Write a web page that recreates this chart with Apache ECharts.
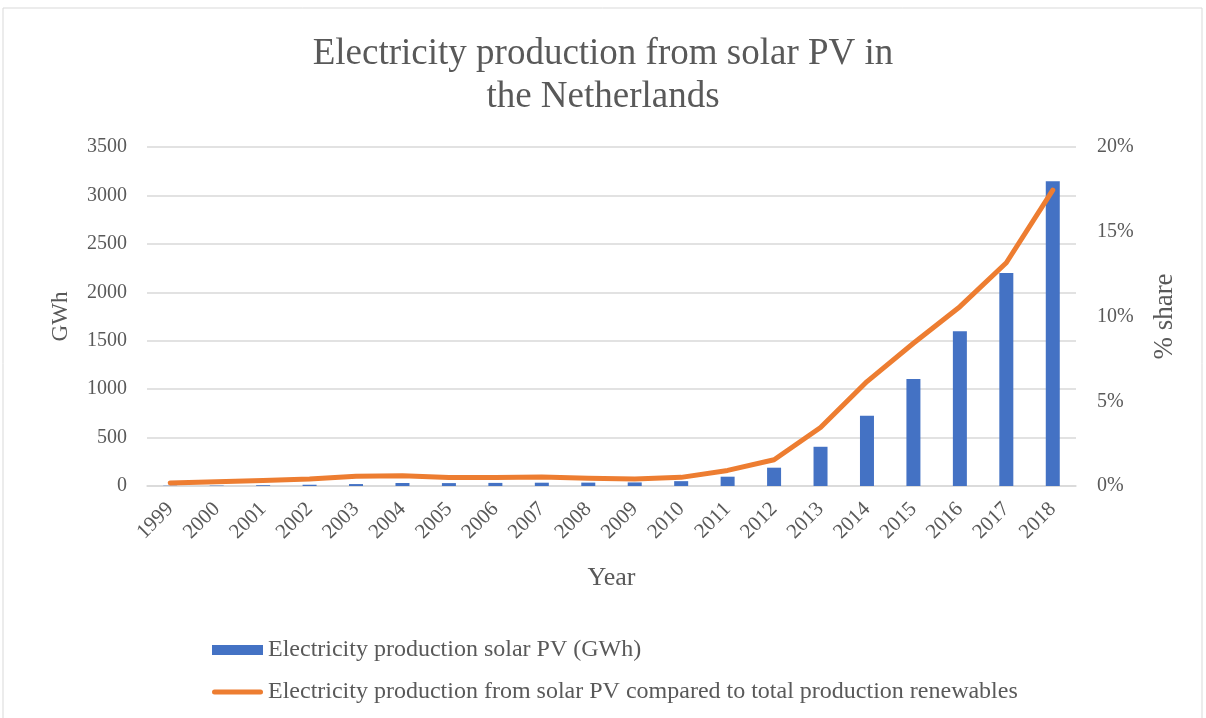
<!DOCTYPE html>
<html>
<head>
<meta charset="utf-8">
<script src="https://cdn.jsdelivr.net/npm/echarts@6/dist/echarts.min.js"></script>
<style>
  html, body { margin: 0; padding: 0; background: #fff; }
  #chart { width: 1206px; height: 718px; }
</style>
</head>
<body>
<div id="chart"></div>
<script>
// data
const years = ['1999', '2000', '2001', '2002', '2003', '2004', '2005', '2006', '2007', '2008',
  '2009', '2010', '2011', '2012', '2013', '2014', '2015', '2016', '2017', '2018'];
const productionGWh = [3, 4, 8, 13, 20, 31, 30, 32, 34, 35, 37, 50, 96, 189, 405, 725, 1106, 1597, 2198, 3147];
const sharePct = [0.18, 0.25, 0.33, 0.41, 0.57, 0.6, 0.5, 0.5, 0.53, 0.45, 0.42, 0.51,
  0.92, 1.55, 3.45, 6.16, 8.42, 10.58, 13.17, 17.45];

const barName = 'Electricity production solar PV (GWh)';
const lineName = 'Electricity production from solar PV compared to total production renewables';

const font = '"Liberation Serif", "Times New Roman", serif';
const textGrey = '#595959';

const chart = echarts.init(document.getElementById('chart'));

chart.setOption({
  animation: false,
  textStyle: { fontFamily: font, color: textGrey },
  title: {
    text: 'Electricity production from solar PV in\nthe Netherlands',
    left: 'center',
    top: 28,
    textStyle: { fontFamily: font, fontSize: 37, fontWeight: 'normal', color: textGrey, lineHeight: 43 }
  },
  // outer chart frame
  graphic: [{
    type: 'rect',
    shape: { x: 3, y: 8, width: 1199, height: 730 },
    style: { fill: 'none', stroke: '#d9d9d9', lineWidth: 1 },
    silent: true
  }],
  legend: {
    orient: 'vertical',
    left: 207,
    top: 633,
    itemWidth: 51,
    itemHeight: 10,
    itemGap: 18,
    textStyle: { fontFamily: font, fontSize: 24, color: textGrey },
    data: [
      { name: barName, icon: 'rect' },
      { name: lineName, icon: 'path://M2.5,0 H48.5 A2.5,2.5 0 0 1 48.5,5 H2.5 A2.5,2.5 0 0 1 2.5,0 Z' }
    ]
  },
  grid: { left: 147, right: 130, top: 147, bottom: 232 },
  xAxis: {
    type: 'category',
    data: years,
    name: 'Year',
    nameLocation: 'middle',
    nameGap: 79,
    nameTextStyle: { fontFamily: font, fontSize: 26, color: textGrey },
    axisLine: { lineStyle: { color: '#d9d9d9', width: 1.5 } },
    axisTick: { show: false },
    axisLabel: { rotate: 45, fontFamily: font, fontSize: 21, color: textGrey, margin: 20, interval: 0 }
  },
  yAxis: [{
    type: 'value',
    min: 0,
    max: 3500,
    interval: 500,
    name: 'GWh',
    nameLocation: 'middle',
    nameGap: 75,
    nameRotate: 90,
    nameTextStyle: { fontFamily: font, fontSize: 23, color: textGrey },
    axisLine: { show: false },
    axisTick: { show: false },
    splitLine: { lineStyle: { color: '#d9d9d9', width: 1.5 } },
    axisLabel: { fontFamily: font, fontSize: 20, color: textGrey, margin: 20, formatter: v => String(v) }
  }, {
    type: 'value',
    min: 0,
    max: 20,
    interval: 5,
    name: '% share',
    nameLocation: 'middle',
    nameGap: 75,
    nameRotate: 90,
    nameTextStyle: { fontFamily: font, fontSize: 27, color: textGrey },
    axisLine: { show: false },
    axisTick: { show: false },
    splitLine: { show: false },
    axisLabel: { fontFamily: font, fontSize: 20, color: textGrey, margin: 21, formatter: v => v + '%' }
  }],
  series: [{
    name: barName,
    type: 'bar',
    data: productionGWh,
    barWidth: 14,
    itemStyle: { color: '#4472C4' }
  }, {
    name: lineName,
    type: 'line',
    yAxisIndex: 1,
    data: sharePct,
    showSymbol: false,
    symbol: 'none',
    lineStyle: { color: '#ED7D31', width: 5, cap: 'round', join: 'round' },
    itemStyle: { color: '#ED7D31' }
  }]
});
</script>
</body>
</html>
